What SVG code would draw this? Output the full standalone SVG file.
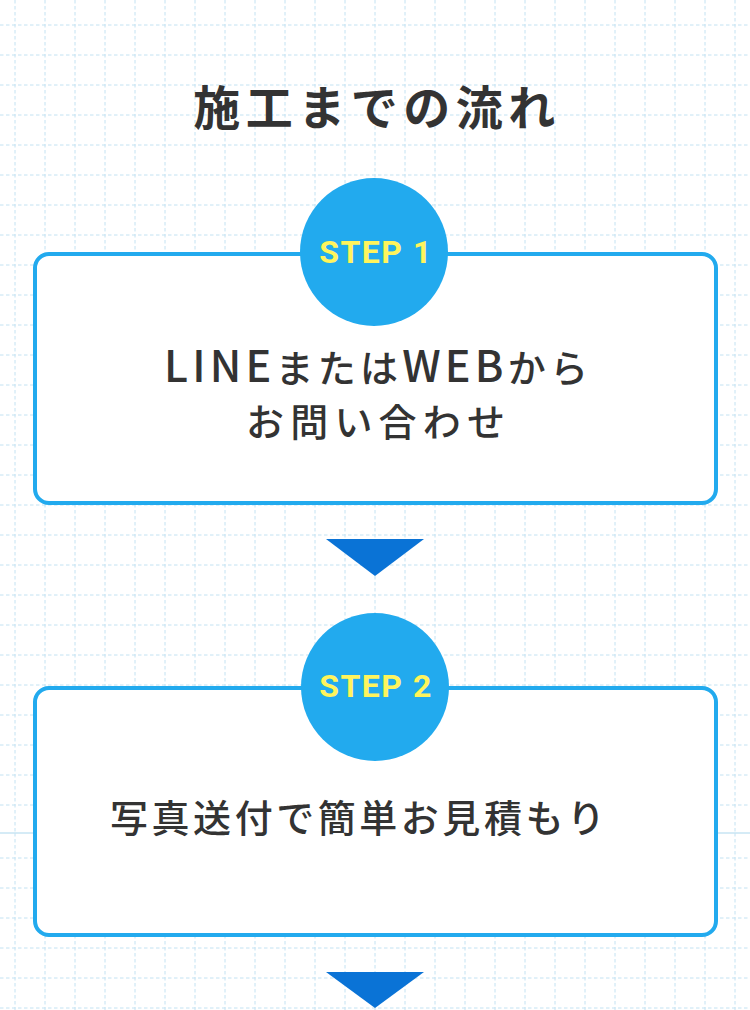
<svg xmlns="http://www.w3.org/2000/svg" width="750" height="1010" viewBox="0 0 750 1010">
  <style>
    .grid { stroke: #c3e2f2; stroke-width: 1; stroke-dasharray: 3.5 2.5; fill: none; }
    .seam { stroke: #c7e4f3; stroke-width: 1.5; }
    .box { fill: #ffffff; stroke: #22aaee; stroke-width: 4; }
    .circle { fill: #22aaee; }
    .arrow { fill: #0a73d6; }
    .title { font-family: "Noto Sans CJK JP", "Noto Sans", sans-serif; font-weight: 700; font-size: 47px; letter-spacing: 5.5px; fill: #333333; text-anchor: middle; }
    .step { font-family: Roboto, "Noto Sans", sans-serif; font-weight: 700; font-size: 32px; letter-spacing: 1.5px; fill: #fff45c; text-anchor: middle; }
    .body { font-family: "Noto Sans CJK JP", "Noto Sans", sans-serif; font-weight: 500; font-size: 38px; fill: #333333; }
    .latin { font-size: 43px; }
  </style>
  <defs>
    <pattern id="gridA" x="0" y="0" width="30" height="30" patternUnits="userSpaceOnUse">
      <line class="grid" x1="15" y1="0" x2="15" y2="30"/>
      <line class="grid" x1="0" y1="25" x2="30" y2="25"/>
    </pattern>
    <pattern id="gridB" x="0" y="833" width="30" height="30" patternUnits="userSpaceOnUse">
      <line class="grid" x1="15" y1="0" x2="15" y2="30"/>
      <line class="grid" x1="0" y1="25" x2="30" y2="25"/>
    </pattern>
  </defs>

  <g id="background">
    <rect x="0" y="0" width="750" height="1010" fill="#ffffff"/>
    <rect x="0" y="0" width="750" height="833" fill="url(#gridA)"/>
    <rect x="0" y="833" width="750" height="177" fill="url(#gridB)"/>
    <line class="seam" x1="0" y1="833" x2="750" y2="833"/>
  </g>

  <g id="title">
    <text class="title" x="377" y="125">施工までの流れ</text>
  </g>

  <g id="connectors">
    <polygon class="arrow" points="326,539 424,539 375,576"/>
    <polygon class="arrow" points="326,972 424,972 375,1008"/>
  </g>

  <g id="step1">
    <rect class="box" x="35" y="254" width="681" height="249" rx="14"/>
    <circle class="circle" cx="374" cy="252" r="74"/>
    <text class="step" x="376" y="263">STEP 1</text>
    <text class="body" x="164" y="382" textLength="424" lengthAdjust="spacing"><tspan class="latin">LINE</tspan>または<tspan class="latin">WEB</tspan>から</text>
    <text class="body" x="246" y="436" textLength="259" lengthAdjust="spacing">お問い合わせ</text>
  </g>

  <g id="step2">
    <rect class="box" x="35" y="688" width="681" height="247" rx="14"/>
    <circle class="circle" cx="375" cy="687" r="74"/>
    <text class="step" x="376" y="697">STEP 2</text>
    <text class="body" x="110" y="832" textLength="495" lengthAdjust="spacing">写真送付で簡単お見積もり</text>
  </g>
</svg>
